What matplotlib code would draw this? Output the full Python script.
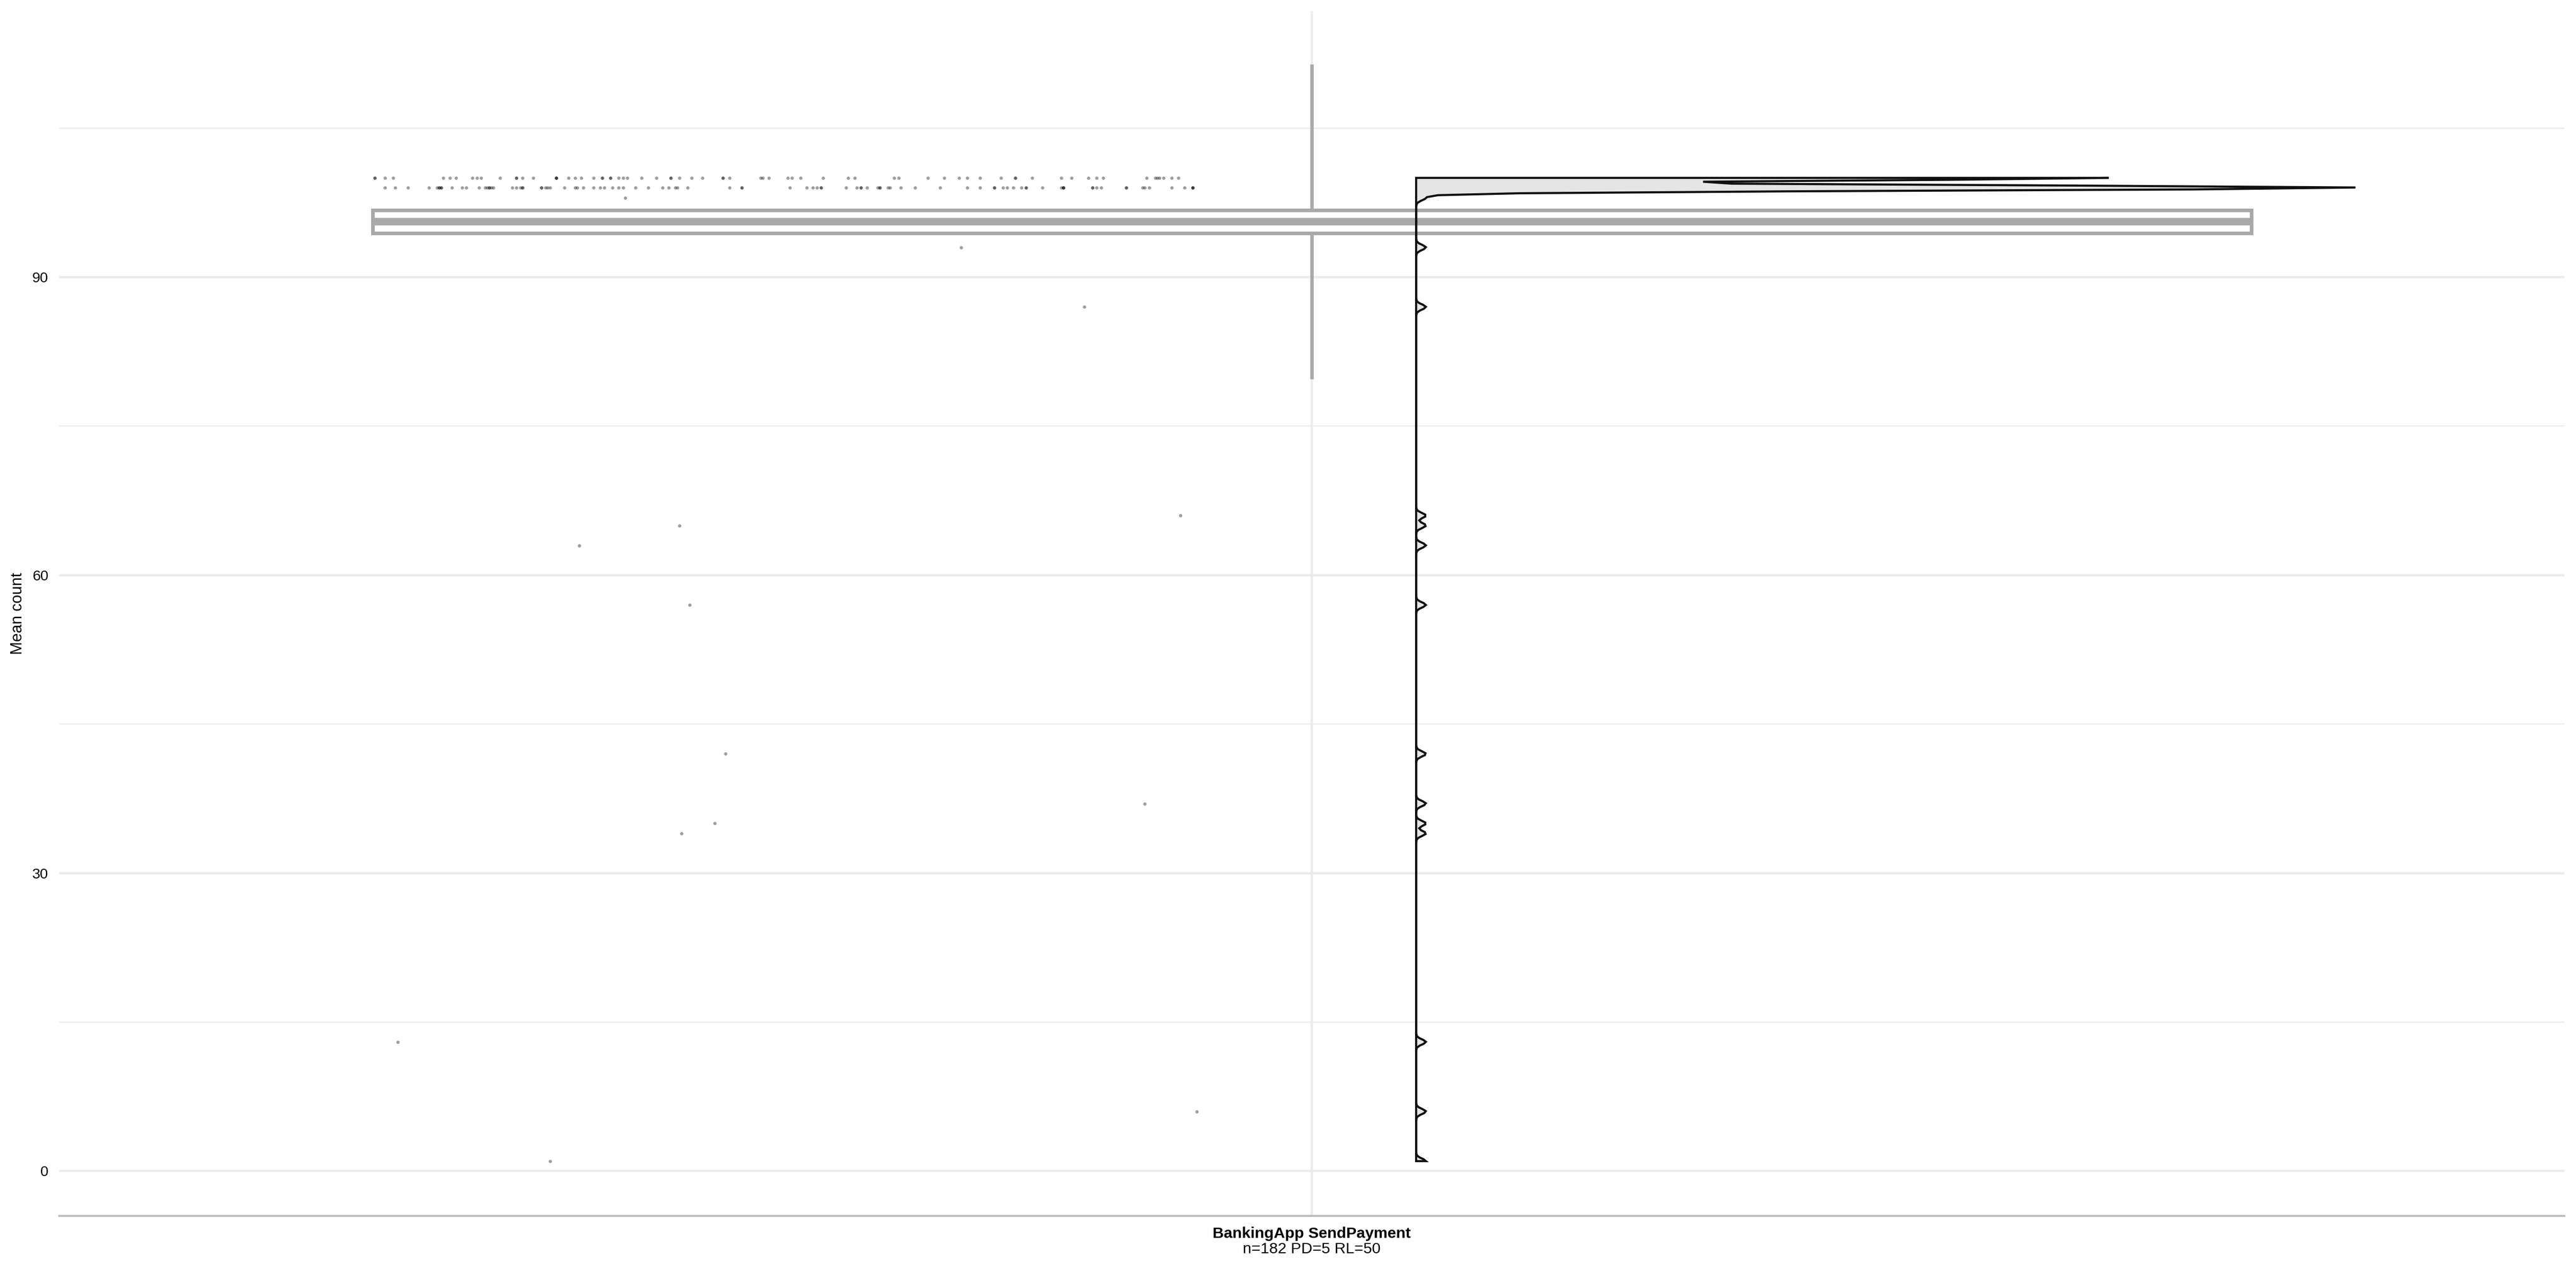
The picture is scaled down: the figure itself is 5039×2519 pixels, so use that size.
import numpy as np
import matplotlib
matplotlib.use('Agg')
import matplotlib.pyplot as plt

plt.rcParams['font.family'] = ['Liberation Sans', 'DejaVu Sans']

category = 'BankingApp SendPayment'
subtitle = 'n=182 PD=5 RL=50'

# jittered x of the points sitting at 100
x_100 = [0.551, 0.551, 0.556, 0.560, 0.584, 0.587, 0.590, 0.598, 0.600, 0.602,
         0.611, 0.619, 0.619, 0.622, 0.627, 0.638, 0.638, 0.638, 0.644, 0.647,
         0.650, 0.656, 0.660, 0.660, 0.664, 0.664, 0.668, 0.670, 0.672, 0.679,
         0.686, 0.693, 0.693, 0.697, 0.703, 0.708, 0.718, 0.718, 0.721, 0.736,
         0.737, 0.740, 0.749, 0.751, 0.755, 0.766, 0.778, 0.781, 0.800, 0.802,
         0.816, 0.824, 0.831, 0.835, 0.841, 0.851, 0.858, 0.858, 0.866, 0.880,
         0.885, 0.893, 0.897, 0.900, 0.921, 0.925, 0.926, 0.927, 0.929, 0.933,
         0.936]

# jittered x of the points sitting at 99
x_99 = [0.556, 0.561, 0.567, 0.577, 0.581, 0.582, 0.582, 0.583, 0.583, 0.588,
        0.593, 0.595, 0.601, 0.604, 0.605, 0.606, 0.606, 0.607, 0.608, 0.617,
        0.619, 0.621, 0.622, 0.622, 0.631, 0.631, 0.633, 0.634, 0.635, 0.642,
        0.647, 0.648, 0.651, 0.656, 0.659, 0.661, 0.665, 0.668, 0.670, 0.676,
        0.682, 0.689, 0.692, 0.695, 0.696, 0.701, 0.721, 0.727, 0.727, 0.750,
        0.758, 0.761, 0.763, 0.765, 0.765, 0.777, 0.782, 0.784, 0.784, 0.787,
        0.792, 0.793, 0.793, 0.797, 0.798, 0.803, 0.810, 0.822, 0.835, 0.841,
        0.848, 0.848, 0.852, 0.854, 0.857, 0.861, 0.863, 0.863, 0.871, 0.880,
        0.881, 0.881, 0.881, 0.895, 0.895, 0.897, 0.899, 0.911, 0.911, 0.919,
        0.920, 0.922, 0.933, 0.939, 0.943, 0.943, 0.943]

# the rest of the points
other_vals = [98, 93, 87, 66, 65, 63, 57, 42, 37, 35, 34, 13, 6, 1]
other_x = [0.671, 0.832, 0.891, 0.937, 0.697, 0.649, 0.702, 0.719, 0.920, 0.714,
           0.698, 0.562, 0.945, 0.635]

vals = np.array([100] * len(x_100) + [99] * len(x_99) + other_vals, dtype=float)
xs = np.array(x_100 + x_99 + other_x)

n = len(vals)
mean = vals.mean()
sd = vals.std(ddof=1)
se = sd / np.sqrt(n)

bw = 0.26
grid = np.linspace(vals.min(), vals.max(), 512)
dens = np.exp(-0.5 * ((grid[:, None] - vals[None, :]) / bw) ** 2).sum(axis=1) / (n * bw * np.sqrt(2 * np.pi))
half_w = dens / dens.max() * 0.45

W, H = 5039, 2519
fig = plt.figure(figsize=(W / 300, H / 300), dpi=300)
ax = fig.add_axes([116 / W, (H - 2378) / H, 4900 / W, (2378 - 21.5) / H])

# points
ax.scatter(xs, vals, s=2.4, c='black', alpha=0.38, linewidths=0, zorder=3)

# mean +- se box, mean +- sd whiskers
stats = [{'med': mean, 'q1': mean - se, 'q3': mean + se,
          'whislo': mean - sd, 'whishi': mean + sd, 'fliers': []}]
box_col = '#A9A9A9'
ax.bxp(stats, positions=[1], widths=0.9, showcaps=False, showfliers=False,
       patch_artist=True, manage_ticks=False, zorder=2,
       boxprops=dict(facecolor='white', edgecolor=box_col, linewidth=1.7),
       whiskerprops=dict(color=box_col, linewidth=1.6),
       medianprops=dict(color=box_col, linewidth=3.5, solid_capstyle='butt'))

# half violin on the right
vx = np.concatenate([[1.05], 1.05 + half_w, [1.05]])
vy = np.concatenate([[grid[0]], grid, [grid[-1]]])
ax.fill(vx, vy, facecolor='#E5E5E5', edgecolor='#111111', linewidth=1.0, zorder=4)

lo = min(vals.min(), mean - sd)
hi = max(vals.max(), mean + sd)
pad = (hi - lo) * 0.05
ax.set_ylim(lo - pad, hi + pad)
ax.set_xlim(0.4, 1.6)

ax.set_yticks([0, 30, 60, 90])
ax.set_yticks([15, 45, 75, 105], minor=True)
ax.set_xticks([1])
ax.set_xticklabels([category], fontweight='bold', fontsize=7.3)
ax.tick_params(axis='both', which='both', length=0)
ax.tick_params(axis='y', labelsize=6.8, pad=5.1)
ax.tick_params(axis='x', pad=5.0)

ax.set_axisbelow(True)
ax.grid(which='major', color='#EBEBEB', linewidth=1.07)
ax.grid(which='minor', axis='y', color='#EBEBEB', linewidth=0.55)

for s in ['left', 'right', 'top']:
    ax.spines[s].set_visible(False)
ax.spines['bottom'].set_color('#BEBEBE')
ax.spines['bottom'].set_linewidth(1.0)

ax.annotate(subtitle, xy=(1, 0), xycoords=('data', 'axes fraction'),
            xytext=(0, -17.45), textcoords='offset points',
            ha='center', va='baseline', fontsize=7.3)

ax.set_ylabel('Mean count', fontsize=7.4, va='center')
ax.yaxis.set_label_coords(-0.0165, 0.5)

fig.savefig('out.png', dpi=300)
